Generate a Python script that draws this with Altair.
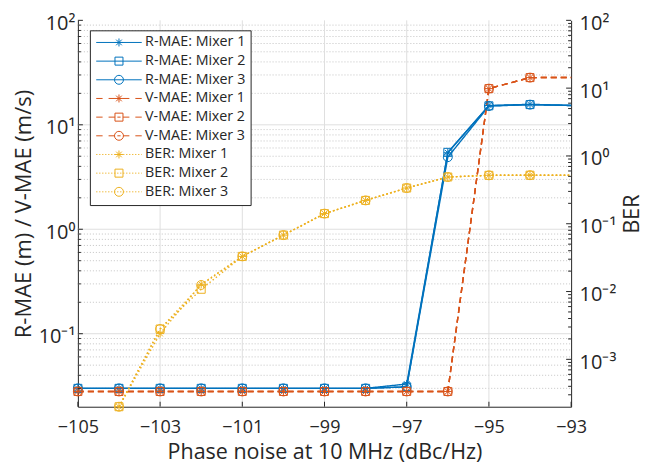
import altair as alt
import pandas as pd

# ---------------- data ----------------
PHASE_NOISE = [-105, -104, -103, -102, -101, -100, -99, -98, -97, -96, -95, -94, -92]

R_MAE_M1 = [0.030, 0.030, 0.030, 0.030, 0.030, 0.030, 0.030, 0.030, 0.033, 5.40, 15.3, 15.7, 15.0]
R_MAE_M2 = [0.030, 0.030, 0.030, 0.030, 0.030, 0.030, 0.030, 0.030, 0.031, 5.45, 15.2, 15.6, 15.0]
R_MAE_M3 = [0.030, 0.030, 0.030, 0.030, 0.030, 0.030, 0.030, 0.030, 0.031, 4.90, 15.1, 15.6, 15.0]

V_MAE_M1 = [0.028, 0.028, 0.028, 0.028, 0.028, 0.028, 0.028, 0.028, 0.028, 0.028, 22.2, 28.3, 28.5]
V_MAE_M2 = [0.028, 0.028, 0.028, 0.028, 0.028, 0.028, 0.028, 0.028, 0.028, 0.028, 22.2, 28.3, 28.5]
V_MAE_M3 = [0.028, 0.028, 0.028, 0.028, 0.028, 0.028, 0.028, 0.028, 0.028, 0.028, 22.2, 28.3, 28.5]

BER_M1 = [None, 2.0e-4, 2.4e-3, 0.0128, 0.033, 0.068, 0.141, 0.221, 0.336, 0.489, 0.518, 0.520, 0.520]
BER_M2 = [None, 2.0e-4, 2.8e-3, 0.0108, 0.033, 0.068, 0.141, 0.221, 0.336, 0.489, 0.518, 0.520, 0.520]
BER_M3 = [None, 2.0e-4, 2.8e-3, 0.0125, 0.033, 0.068, 0.141, 0.221, 0.336, 0.489, 0.518, 0.520, 0.520]

MIXERS = ["Mixer 1", "Mixer 2", "Mixer 3"]
METRICS = ["R-MAE", "V-MAE", "BER"]
SERIES = [f"{m}: {x}" for m in METRICS for x in MIXERS]

X_DOMAIN = [-105, -93]
X_TICKS = [-105, -103, -101, -99, -97, -95, -93]
X_GRID = [-103, -101, -99, -97, -95]

LEFT_DOMAIN = [0.02, 100]
LEFT_TICKS = [0.1, 1, 10, 100]
LEFT_TICK_LABELS = ["10⁻¹", "10⁰", "10¹", "10²"]
LEFT_MAJOR_GRID = [0.1, 1, 10]
LEFT_MINOR = [k * d for d in [0.01, 0.1, 1, 10] for k in range(2, 10) if k * d > 0.021]

RIGHT_DOMAIN = [2e-4, 100]
RIGHT_TICKS = [1e-3, 1e-2, 0.1, 1, 10, 100]
RIGHT_TICK_LABELS = ["10⁻³", "10⁻²", "10⁻¹", "10⁰", "10¹", "10²"]
RIGHT_MINOR = [k * d for d in [1e-4, 1e-3, 1e-2, 0.1, 1, 10] for k in range(2, 10) if k * d > 2.1e-4]

# ---------------- styles ----------------
W, H = 494, 387
BLUE, ORANGE, YELLOW = "#0072BD", "#D95319", "#EDB120"
SERIES_COLORS = [BLUE] * 3 + [ORANGE] * 3 + [YELLOW] * 3
TXT = "#262626"
FONT = "Open Sans"

ASTERISK = "M-1,0L1,0M0,-1L0,1M-0.71,-0.71L0.71,0.71M-0.71,0.71L0.71,-0.71"
SQUARE = "M-1,-1L1,-1L1,1L-1,1Z"
CIRCLE = "M1.12,0A1.12,1.12,0,1,1,-1.12,0A1.12,1.12,0,1,1,1.12,0Z"
MARKER_PATHS = [ASTERISK, SQUARE, CIRCLE]


def seg_path(segs):
    return "".join(f"M{a:.2f},0L{b:.2f},0" for a, b in segs)


HALF = 5.7
SOLID_LINE = seg_path([(-HALF, HALF)])
DASH_LINE = seg_path([(-5.7, -4.1), (-2.6, -1.0), (-0.4, 0.4), (1.0, 2.6), (4.1, 5.7)])
dots = []
p = -HALF
while p < HALF:
    dots.append((p, min(p + 0.3, HALF)))
    p += 0.75
DOT_LINE = seg_path(dots)
LEGEND_PATHS = [ln + mk for ln in [SOLID_LINE, DASH_LINE, DOT_LINE] for mk in MARKER_PATHS]


def build(metric, arrays):
    rows = []
    for mixer, vals in zip(MIXERS, arrays):
        for pn, v in zip(PHASE_NOISE, vals):
            if v is None:
                continue
            rows.append(dict(pn=pn, value=v, metric=metric, mixer=mixer,
                             series=f"{metric}: {mixer}"))
    return rows


mae_df = pd.DataFrame(build("R-MAE", [R_MAE_M1, R_MAE_M2, R_MAE_M3]) +
                      build("V-MAE", [V_MAE_M1, V_MAE_M2, V_MAE_M3]))
ber_df = pd.DataFrame(build("BER", [BER_M1, BER_M2, BER_M3]))

# ---------------- scales / axes ----------------
x_scale = alt.Scale(domain=X_DOMAIN, nice=False, zero=False)
x_axis = alt.Axis(values=X_TICKS, title="Phase noise at 10 MHz (dBc/Hz)", labelFlush=False,
                  labelOverlap=False, labelFontSize=18, titleFontSize=21.5, labelPadding=12,
                  titlePadding=5)


def tick_expr(ticks, labels):
    parts = " : ".join(f"datum.value == {v} ? '{t}'" for v, t in zip(ticks, labels))
    return parts + " : ''"


left_scale = alt.Scale(type="log", domain=LEFT_DOMAIN, nice=False)
left_axis = alt.Axis(orient="left", values=LEFT_TICKS, labelExpr=tick_expr(LEFT_TICKS, LEFT_TICK_LABELS),
                     title="R-MAE (m) / V-MAE (m/s)", labelFontSize=20, titleFontSize=22,
                     labelPadding=3, titlePadding=3, labelFlush=False, labelOverlap=False,
                     labelOffset=3)
right_scale = alt.Scale(type="log", domain=RIGHT_DOMAIN, nice=False)
right_axis = alt.Axis(orient="right", values=RIGHT_TICKS, labelExpr=tick_expr(RIGHT_TICKS, RIGHT_TICK_LABELS),
                      title="BER", labelFontSize=20, titleFontSize=21.5, titleAngle=270,
                      labelPadding=8, titlePadding=28, labelFlush=False, labelOverlap=False,
                      labelOffset=3)


def X(field):
    return alt.X(field, scale=x_scale, axis=x_axis)


def YL(field):
    return alt.Y(field, scale=left_scale, axis=left_axis)


def YR(field):
    return alt.Y(field, scale=right_scale, axis=right_axis)


def vals(lst):
    return pd.DataFrame({"v": lst})


# ---------------- left group ----------------
h_minor = alt.Chart(vals(LEFT_MINOR)).mark_rule(color="#C4C4C4", strokeDash=[1, 2], strokeWidth=1).encode(
    y=YL("v:Q"), x=alt.value(0), x2=alt.value(W))
h_major = alt.Chart(vals(LEFT_MAJOR_GRID)).mark_rule(color="#DFDFDF", strokeWidth=1).encode(
    y=YL("v:Q"), x=alt.value(0), x2=alt.value(W))
v_grid = alt.Chart(vals(X_GRID)).mark_rule(color="#DFDFDF", strokeWidth=1).encode(
    x=X("v:Q"), y=alt.value(0), y2=alt.value(H))
x_ticks = alt.Chart(vals(X_TICKS)).mark_rule(color=TXT, strokeWidth=1).encode(
    x=X("v:Q"), y=alt.value(H), y2=alt.value(H - 5))
l_major_ticks = alt.Chart(vals(LEFT_TICKS)).mark_rule(color=TXT, strokeWidth=1).encode(
    y=YL("v:Q"), x=alt.value(0), x2=alt.value(5))
l_minor_ticks = alt.Chart(vals(LEFT_MINOR)).mark_rule(color=TXT, strokeWidth=1).encode(
    y=YL("v:Q"), x=alt.value(0), x2=alt.value(3))

color_mae = alt.Color("series:N", scale=alt.Scale(domain=SERIES, range=SERIES_COLORS), legend=None)
mae_lines = alt.Chart(mae_df).mark_line(clip=True, strokeWidth=1.4).encode(
    x=X("pn:Q"), y=YL("value:Q"), color=color_mae, detail="series:N",
    strokeDash=alt.StrokeDash("metric:N", scale=alt.Scale(domain=["R-MAE", "V-MAE"],
                                                          range=[[1, 0], [6, 4]]), legend=None))
mae_points = alt.Chart(mae_df).mark_point(filled=False, size=64, strokeWidth=1, opacity=1).encode(
    x=X("pn:Q"), y=YL("value:Q"), color=color_mae,
    shape=alt.Shape("mixer:N", scale=alt.Scale(domain=MIXERS, range=MARKER_PATHS), legend=None)
).transform_filter("datum.pn <= -93")

left = alt.layer(h_minor, h_major, v_grid, mae_lines, mae_points, x_ticks, l_minor_ticks, l_major_ticks)

# ---------------- right group ----------------
color_ber = alt.Color("series:N", scale=alt.Scale(domain=SERIES, range=SERIES_COLORS), legend=None)
ber_lines = alt.Chart(ber_df).mark_line(clip=True, strokeWidth=1.4, strokeDash=[1.5, 2.5]).encode(
    x=X("pn:Q"), y=YR("value:Q"), color=color_ber, detail="series:N")
ber_points = alt.Chart(ber_df).mark_point(filled=False, size=64, strokeWidth=1, opacity=1).encode(
    x=X("pn:Q"), y=YR("value:Q"), color=color_ber,
    shape=alt.Shape("mixer:N", scale=alt.Scale(domain=MIXERS, range=MARKER_PATHS), legend=None)
).transform_filter("datum.pn <= -93")
r_major_ticks = alt.Chart(vals(RIGHT_TICKS)).mark_rule(color=TXT, strokeWidth=1).encode(
    y=YR("v:Q"), x=alt.value(W), x2=alt.value(W - 5))
r_minor_ticks = alt.Chart(vals(RIGHT_MINOR)).mark_rule(color=TXT, strokeWidth=1).encode(
    y=YR("v:Q"), x=alt.value(W), x2=alt.value(W - 3))

right = alt.layer(ber_lines, ber_points, r_minor_ticks, r_major_ticks)

# ---------------- legend layer ----------------
leg = alt.Legend(title=None, orient="none", legendX=12, legendY=10, fillColor="white",
                 strokeColor=TXT, padding=5, symbolSize=64, symbolStrokeWidth=1,
                 symbolOffset=17, labelOffset=19, rowPadding=3.7, labelFont=FONT,
                 labelFontSize=14.3, labelColor=TXT, symbolFillColor="transparent")
legend_layer = alt.Chart(pd.DataFrame({"series": SERIES})).mark_point(
    filled=False, size=64, strokeWidth=1, opacity=1).encode(
    color=alt.Color("series:N", scale=alt.Scale(domain=SERIES, range=SERIES_COLORS), legend=leg),
    shape=alt.Shape("series:N", scale=alt.Scale(domain=SERIES, range=LEGEND_PATHS), legend=leg),
).transform_filter("false")

chart = alt.layer(left, right, legend_layer).resolve_scale(
    y="independent", color="independent", shape="independent"
).properties(
    width=W, height=H,
    autosize=alt.AutoSizeParams(type="none"),
    padding={"left": 70, "top": 12, "right": 74, "bottom": 58},
).configure_view(stroke=None).configure_axis(
    labelFont=FONT, titleFont=FONT, labelColor=TXT, titleColor=TXT,
    domainColor=TXT, domainWidth=1, ticks=False, grid=False, titleFontWeight="normal",
)

chart.save("out.html", embed_options={"renderer": "svg", "actions": False})
